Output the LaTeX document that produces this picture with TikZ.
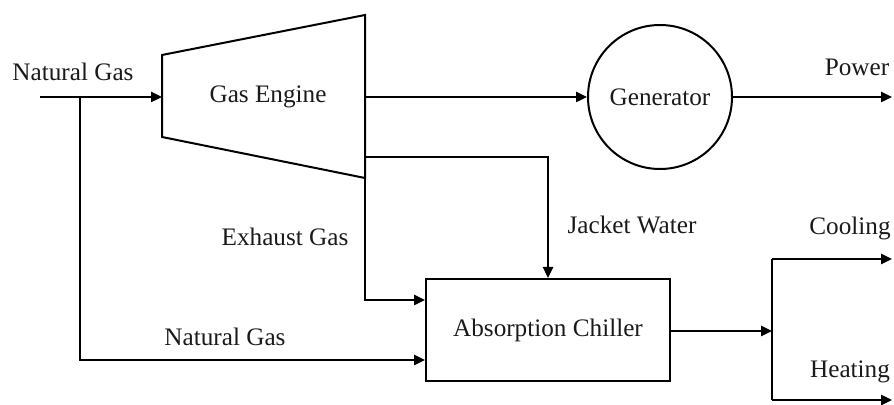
\documentclass[tikz,border=0pt]{standalone}
\usepackage{fontspec}
\setmainfont{Liberation Serif}
\usetikzlibrary{arrows.meta, positioning, calc}
\definecolor{ink}{HTML}{000000}
\definecolor{txt}{HTML}{1A1A1A}

\begin{document}
\begin{tikzpicture}[
    x=0.5pt, y=-0.5pt,
    every node/.style={font=\fontsize{12.6}{15}\selectfont, text=txt},
    unit/.style={draw=ink, line width=1.0pt},
    flow/.style={-{Triangle[length=5.5pt, width=5pt]}, line width=1.2pt, color=ink},
    pipe/.style={line width=1.2pt, color=ink},
]
\useasboundingbox (0,0) rectangle (894,405);

% ---------------- units
\draw[unit] (162,55) coordinate (eng-tl) -- (365,15) coordinate (eng-tr)
    -- (365,178) coordinate (eng-br) -- (162,137) coordinate (eng-bl) -- cycle;
\node (engine) at (268,97) {Gas Engine};
\node[unit, circle, minimum size=72pt, inner sep=0pt] (gen) at (660,97) {Generator};
\node[unit, rectangle, minimum width=122pt, minimum height=51pt] (chiller)
    at (548,330) {Absorption Chiller};

% ---------------- free ends
\coordinate (ng-in) at (40,97);
\coordinate (split) at (80,97);
\coordinate (ng-low) at (80,360);
\coordinate (jw) at (365,157);
\coordinate (ex) at (365,300);
\coordinate (dist) at (772,331);
\coordinate (cool) at (772,259);
\coordinate (heat) at (772,400);
\coordinate (power) at (892,97);

% ---------------- connectors
\draw[flow] (ng-in) -- (ng-in -| eng-tl);
\draw[flow] (split) -- (ng-low) -- (ng-low -| chiller.west);
\draw[flow] (eng-tr |- gen) -- (gen.west);
\draw[flow] (gen.east) -- (power);
\draw[flow] (jw) -| (chiller.north);
\draw[flow] (eng-br) -- (ex) -- (ex -| chiller.west);
\draw[flow] (chiller.east |- dist) -- (dist);
\draw[pipe] (cool) -- (heat);
\draw[flow] (cool) -- (cool -| power);
\draw[flow] (heat) -- (heat -| power);

% ---------------- labels
\node (l-ng1) at (73,72) {Natural Gas};
\node (l-ng2) at (225,337) {Natural Gas};
\node (l-ex) at (285,237) {Exhaust Gas};
\node (l-jw) at (632,225) {Jacket Water};
\node (l-pow) at (857,67) {Power};
\node (l-cool) at (850,228) {Cooling};
\node (l-heat) at (850,372) {Heating};
\end{tikzpicture}
\end{document}
